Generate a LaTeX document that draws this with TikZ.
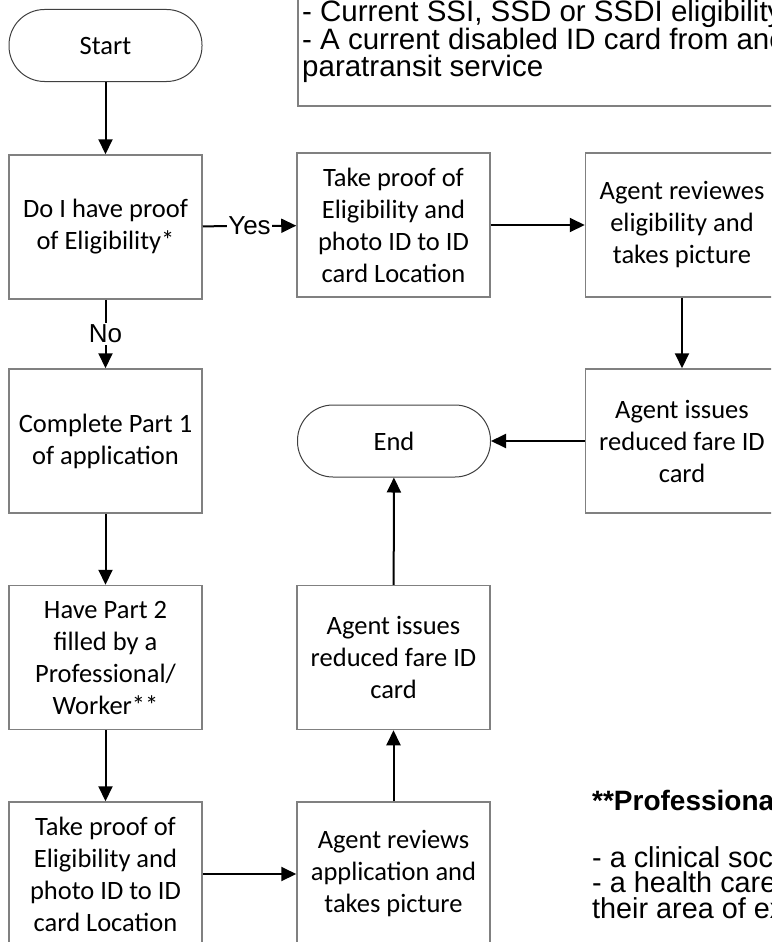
\documentclass[tikz,border=0pt]{standalone}
\usepackage{fontspec}
\newfontfamily\boxfont{Carlito}
\newfontfamily\notefont{Liberation Sans}
\usetikzlibrary{positioning}
\usetikzlibrary{arrows.meta}
\tikzset{edge/.style = {->,> = {Triangle[length=15pt,width=14pt]},line width=2pt}}

\begin{document}
\begin{tikzpicture}[x=1pt,y=-1pt,
    main node/.style={rectangle,draw=black!50,line width=1.5pt,minimum width=193pt,minimum height=144pt,align=center,inner sep=2pt,font=\boxfont\fontsize{26.5}{32}\selectfont},
    end node/.style={rectangle,rounded corners=35.5pt,draw=black!75,line width=1pt,minimum width=193pt,minimum height=72pt,font=\boxfont\fontsize{26.5}{32}\selectfont},
    label node/.style={fill=white,inner sep=1.5pt,font=\notefont\fontsize{26}{30}\selectfont},
    note text/.style={inner sep=0pt,align=left,font=\notefont\fontsize{29.5}{27.5}\selectfont}]
    \useasboundingbox (0,0) rectangle (771,942);
    \clip (0,0) rectangle (771,942);

    % eligibility note
    \draw[draw=black!50,line width=1.5pt] (298,-30) rectangle (820,106);
    \node[note text,anchor=south west] (elig) at (302,83) {- Current SSI, SSD or SSDI eligibility\\- A current disabled ID card from another\\paratransit service};

    \node[end node] (start) at (105.5,45.5) {Start};
    \node[main node] (proof) at (105.5,227) {Do I have proof\\of Eligibility*};
    \node[main node] (take) at (393.5,225) {Take proof of\\Eligibility and\\photo ID to ID\\card Location};
    \node[main node] (review) at (682,225) {Agent reviewes\\eligibility and\\takes picture};
    \node[main node] (part1) at (105.5,441) {Complete Part 1\\of application};
    \node[end node] (end) at (394,441) {End};
    \node[main node] (issue) at (682,441) {Agent issues\\reduced fare ID\\card};
    \node[main node] (part2) at (105.5,657.5) {Have Part 2\\filled by a\\Professional/\\Worker**};
    \node[main node] (issue2) at (393.5,657.5) {Agent issues\\reduced fare ID\\card};
    \node[main node] (take2) at (105.5,874) {Take proof of\\Eligibility and\\photo ID to ID\\card Location};
    \node[main node] (review2) at (393.5,874) {Agent reviews\\application and\\takes picture};

    \draw[edge] (start) -- (proof);
    \draw[edge] (proof) -- node[label node] {Yes} (take);
    \draw[edge] (proof) -- node[label node] {No} (part1);
    \draw[edge] (take) -- (review);
    \draw[edge] (review) -- (issue);
    \draw[edge] (issue) -- (end);
    \draw[edge] (part1) -- (part2);
    \draw[edge] (part2) -- (take2);
    \draw[edge] (take2) -- (review2);
    \draw[edge] (review2) -- (issue2);
    \draw[edge] (issue2) -- (end);

    % professional note
    \node[note text,font=\notefont\bfseries\fontsize{28}{25.5}\selectfont,anchor=base west] (prof) at (592,810) {**Professional};
    \node[note text,font=\notefont\fontsize{28.8}{25.5}\selectfont,anchor=north west] (list) at (592,846) {- a clinical social\\- a health care\\their area of expertise};
\end{tikzpicture}
\end{document}
